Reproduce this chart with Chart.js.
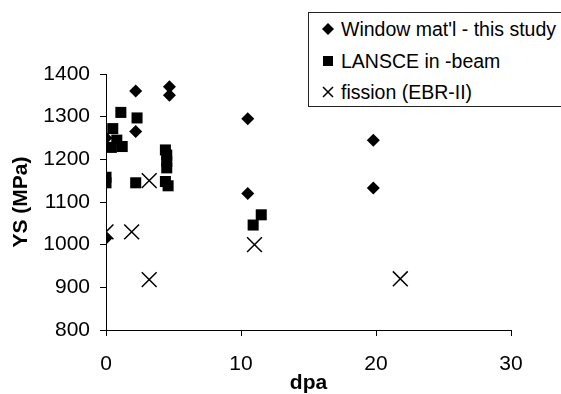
<!DOCTYPE html>
<html>
<head>
<meta charset="utf-8">
<script src="https://cdn.jsdelivr.net/npm/chart.js@4"></script>
<style>
  html, body { margin: 0; padding: 0; background: #fff; }
  #wrap { position: relative; width: 561px; height: 394px; overflow: hidden; }
  #legend {
    position: absolute; left: 308px; top: 12px; width: 270px; height: 95px;
    border: 1px solid #222; background: #fff; box-sizing: border-box;
    font-family: "Liberation Sans", Arial, sans-serif; font-size: 19.5px; color: #000;
  }
  .row { position: absolute; left: 13px; height: 22px; line-height: 22px; white-space: nowrap; }
  .row svg { vertical-align: middle; margin-right: 7px; position: relative; top: -2px; }
</style>
</head>
<body>
<div id="wrap">
  <canvas id="chart" width="561" height="394"></canvas>
  <div id="legend"></div>
</div>
<script>
// Series names
const seriesNames = ["Window mat'l - this study", "LANSCE in -beam", "fission (EBR-II)"];

// Window material (diamonds)
const windowDpa = [0, 0, 2.2, 2.2, 4.7, 4.7, 10.5, 10.5, 19.8, 19.8];
const windowYs  = [1250, 1015, 1360, 1265, 1370, 1350, 1295, 1120, 1245, 1133];

// LANSCE in-beam (squares)
const lansceDpa = [0, 0, 0.4, 0.5, 0.8, 1.1, 1.2, 2.2, 2.3, 4.4, 4.5, 4.5, 4.5, 4.4, 4.6, 10.9, 11.5];
const lansceYs  = [1158, 1145, 1228, 1272, 1245, 1310, 1230, 1145, 1297, 1222, 1210, 1195, 1180, 1148, 1138, 1046, 1070];

// Fission EBR-II (crosses)
const fissionDpa = [0, 1.9, 3.2, 3.2, 11, 21.8];
const fissionYs  = [1030, 1030, 1150, 918, 1000, 920];

// Axis ticks
const xTicks = [0, 10, 20, 30];
const yTicks = [800, 900, 1000, 1100, 1200, 1300, 1400];

function toPoints(xs, ys) {
    return xs.map((x, i) => ({ x: x, y: ys[i] }));
}

const tickFont = { family: "'Liberation Sans', Arial, sans-serif", size: 21 };
const titleFont = { family: "'Liberation Sans', Arial, sans-serif", size: 21, weight: 'bold' };

new Chart(document.getElementById('chart'), {
    type: 'scatter',
    data: {
        datasets: [
            {
                label: seriesNames[0],
                data: toPoints(windowDpa, windowYs),
                pointStyle: 'rectRot',
                radius: 6.5,
                backgroundColor: '#000',
                borderColor: '#000',
                borderWidth: 0
            },
            {
                label: seriesNames[1],
                data: toPoints(lansceDpa, lansceYs),
                pointStyle: 'rect',
                radius: 7.8,
                backgroundColor: '#000',
                borderColor: '#000',
                borderWidth: 0
            },
            {
                label: seriesNames[2],
                data: toPoints(fissionDpa, fissionYs),
                pointStyle: 'crossRot',
                radius: 10.5,
                backgroundColor: '#000',
                borderColor: '#000',
                borderWidth: 1.5
            }
        ]
    },
    options: {
        responsive: false,
        animation: false,
        layout: { padding: { left: 0, top: 74, right: 50, bottom: 0 } },
        plugins: {
            legend: { display: false },
            tooltip: { enabled: false }
        },
        scales: {
            x: {
                type: 'linear',
                min: 0,
                max: 30,
                afterFit: (scale) => { scale.height = 64; },
                afterBuildTicks: (scale) => { scale.ticks = xTicks.map(v => ({ value: v })); },
                grid: { drawOnChartArea: false, drawTicks: true, tickLength: 6, color: '#000' },
                border: { display: true, color: '#000', width: 1 },
                ticks: { color: '#000', font: tickFont, padding: 16, maxRotation: 0, callback: (v) => String(v) },
                title: { display: true, text: 'dpa', color: '#000', font: { ...titleFont, lineHeight: 1 }, padding: 0 }
            },
            y: {
                type: 'linear',
                min: 800,
                max: 1400,
                afterFit: (scale) => { scale.width = 106; },
                afterBuildTicks: (scale) => { scale.ticks = yTicks.map(v => ({ value: v })); },
                grid: { drawOnChartArea: false, drawTicks: true, tickLength: 6, color: '#000' },
                border: { display: true, color: '#000', width: 1 },
                ticks: { color: '#000', font: tickFont, padding: 10, callback: (v) => String(v) },
                title: { display: true, text: 'YS (MPa)', color: '#000', font: titleFont, padding: { top: 9, bottom: 0 } }
            }
        }
    }
});

// Legend drawn as html box
const markers = [
    '<svg width="12" height="12"><polygon points="6,0 12,6 6,12 0,6" fill="#000"/></svg>',
    '<svg width="12" height="12"><rect x="1" y="1" width="10" height="10" fill="#000"/></svg>',
    '<svg width="12" height="12"><path d="M1,1 L11,11 M11,1 L1,11" stroke="#000" stroke-width="1.5"/></svg>'
];
const rowTops = [5, 37, 68];
const legendEl = document.getElementById('legend');
seriesNames.forEach((name, i) => {
    const row = document.createElement('div');
    row.className = 'row';
    row.style.top = rowTops[i] + 'px';
    row.innerHTML = markers[i] + '<span></span>';
    row.querySelector('span').textContent = name;
    legendEl.appendChild(row);
});
</script>
</body>
</html>
